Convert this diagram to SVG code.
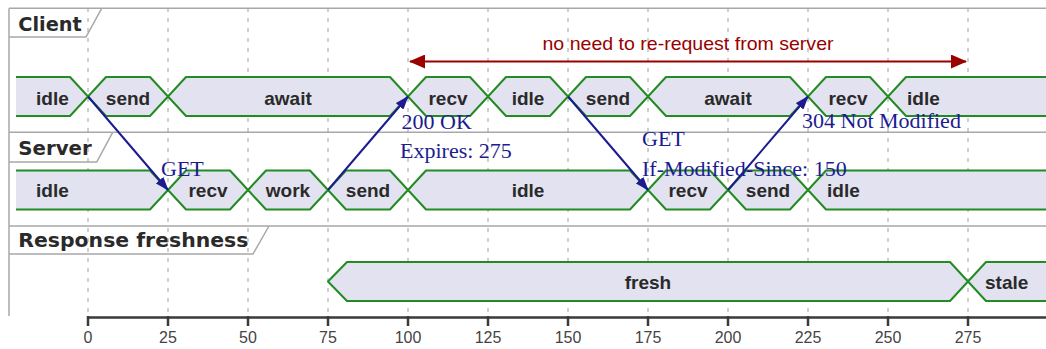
<svg xmlns="http://www.w3.org/2000/svg" width="1046" height="349" viewBox="0 0 1046 349">
<defs>
<style>
.frame{fill:none;stroke:#a8a8a8;stroke-width:1.5}
.grid{stroke:#a0a0a0;stroke-width:1;stroke-dasharray:4,6}
.band{fill:#e2e2f0;stroke:#228b22;stroke-width:2;stroke-linejoin:round}
.st{font-family:"Liberation Sans",Arial,sans-serif;font-weight:bold;font-size:19px;fill:#2a2a2a}
.lbl{font-family:"DejaVu Sans",sans-serif;font-weight:bold;font-size:19.5px;fill:#2a2a2a}
.msg{stroke:#1c1c90;stroke-width:2;fill:none}
.mt{font-family:"Liberation Serif","Times New Roman",serif;font-size:22px;fill:#1c1c90}
.ax{font-family:"Liberation Sans",Arial,sans-serif;font-size:16px;fill:#444;text-anchor:middle}
</style>
<marker id="ah" viewBox="0 0 14 10" refX="13" refY="5" markerWidth="14" markerHeight="10" markerUnits="userSpaceOnUse" orient="auto">
<path d="M0,0 L14,5 L0,10 z" fill="#1c1c90"/>
</marker>
<marker id="rh" viewBox="0 0 16 14" refX="15" refY="7" markerWidth="16" markerHeight="14" markerUnits="userSpaceOnUse" orient="auto-start-reverse">
<path d="M0,0 L16,7 L0,14 z" fill="#990000"/>
</marker>
</defs>
<rect width="1046" height="349" fill="#ffffff"/>

<g id="frame">
<path class="frame" d="M9,8.3 H1046 M9,132.3 H1046 M9,226 H1046 M9,8.3 V316"/>
<path class="frame" d="M9,37 H86 L101.7,8.3"/>
<path class="frame" d="M9,162 H96.7 L112.7,132.3"/>
<path class="frame" d="M9,254 H253 L269,226"/>
<text class="lbl" x="18.3" y="30.7" textLength="63.4" lengthAdjust="spacingAndGlyphs">Client</text>
<text class="lbl" x="18.3" y="155" textLength="73.4" lengthAdjust="spacingAndGlyphs">Server</text>
<text class="lbl" x="18.3" y="247.3" textLength="230" lengthAdjust="spacingAndGlyphs">Response freshness</text>
</g>

<g id="grid">
<path class="grid" d="M88,8 V314 M168,8 V314 M248,8 V314 M328,8 V314 M408,8 V314 M488,8 V314 M568,8 V314 M648,8 V314 M728,8 V314 M808,8 V314 M888,8 V314 M968,8 V314"/>
</g>

<g id="client">
<path class="band" d="M16,77 L70,77 L88,96.5 L70,116 L16,116"/>
<path class="band" d="M88,96.5 L106,77 L150,77 L168,96.5 L150,116 L106,116 Z"/>
<path class="band" d="M168,96.5 L186,77 L390,77 L408,96.5 L390,116 L186,116 Z"/>
<path class="band" d="M408,96.5 L426,77 L470,77 L488,96.5 L470,116 L426,116 Z"/>
<path class="band" d="M488,96.5 L506,77 L550,77 L568,96.5 L550,116 L506,116 Z"/>
<path class="band" d="M568,96.5 L586,77 L630,77 L648,96.5 L630,116 L586,116 Z"/>
<path class="band" d="M648,96.5 L666,77 L790,77 L808,96.5 L790,116 L666,116 Z"/>
<path class="band" d="M808,96.5 L826,77 L870,77 L888,96.5 L870,116 L826,116 Z"/>
<path class="band" d="M888,96.5 L906,77 L1050,77 L1050,116 L906,116 Z"/>
<text class="st" x="36" y="104.5">idle</text>
<text class="st" x="128" y="104.5" text-anchor="middle">send</text>
<text class="st" x="288" y="104.5" text-anchor="middle">await</text>
<text class="st" x="448" y="104.5" text-anchor="middle">recv</text>
<text class="st" x="528" y="104.5" text-anchor="middle">idle</text>
<text class="st" x="608" y="104.5" text-anchor="middle">send</text>
<text class="st" x="728" y="104.5" text-anchor="middle">await</text>
<text class="st" x="848" y="104.5" text-anchor="middle">recv</text>
<text class="st" x="907" y="104.5">idle</text>
</g>

<g id="server">
<path class="band" d="M16,170.5 L150,170.5 L168,190 L150,209.5 L16,209.5"/>
<path class="band" d="M168,190 L186,170.5 L230,170.5 L248,190 L230,209.5 L186,209.5 Z"/>
<path class="band" d="M248,190 L266,170.5 L310,170.5 L328,190 L310,209.5 L266,209.5 Z"/>
<path class="band" d="M328,190 L346,170.5 L390,170.5 L408,190 L390,209.5 L346,209.5 Z"/>
<path class="band" d="M408,190 L426,170.5 L630,170.5 L648,190 L630,209.5 L426,209.5 Z"/>
<path class="band" d="M648,190 L666,170.5 L710,170.5 L728,190 L710,209.5 L666,209.5 Z"/>
<path class="band" d="M728,190 L746,170.5 L790,170.5 L808,190 L790,209.5 L746,209.5 Z"/>
<path class="band" d="M808,190 L826,170.5 L1050,170.5 L1050,209.5 L826,209.5 Z"/>
<text class="st" x="36" y="197">idle</text>
<text class="st" x="208" y="197" text-anchor="middle">recv</text>
<text class="st" x="288" y="197" text-anchor="middle">work</text>
<text class="st" x="368" y="197" text-anchor="middle">send</text>
<text class="st" x="528" y="197" text-anchor="middle">idle</text>
<text class="st" x="688" y="197" text-anchor="middle">recv</text>
<text class="st" x="768" y="197" text-anchor="middle">send</text>
<text class="st" x="827" y="197">idle</text>
</g>

<g id="freshness">
<path class="band" d="M328,281.5 L347,262 L950,262 L968,281.5 L950,301 L347,301 Z"/>
<path class="band" d="M968,281.5 L986,262 L1050,262 L1050,301 L986,301 Z"/>
<text class="st" x="648" y="289" text-anchor="middle">fresh</text>
<text class="st" x="985" y="289">stale</text>
</g>

<g id="connectors">
<line class="msg" x1="88" y1="96.5" x2="168" y2="190" marker-end="url(#ah)"/>
<line class="msg" x1="328" y1="190" x2="408" y2="96.5" marker-end="url(#ah)"/>
<line class="msg" x1="568" y1="96.5" x2="648" y2="190" marker-end="url(#ah)"/>
<line class="msg" x1="728" y1="190" x2="808" y2="96.5" marker-end="url(#ah)"/>
<line x1="410" y1="61.5" x2="966" y2="61.5" stroke="#990000" stroke-width="2" marker-start="url(#rh)" marker-end="url(#rh)"/>
</g>

<g id="labels">
<text class="mt" x="161" y="176">GET</text>
<text class="mt" x="401.5" y="129">200 OK</text>
<text class="mt" x="400" y="158">Expires: 275</text>
<text class="mt" x="642" y="146">GET</text>
<text class="mt" x="642" y="176">If-Modified-Since: 150</text>
<text class="mt" x="802" y="128">304 Not Modified</text>
<text x="688" y="49.5" text-anchor="middle" font-family="Liberation Sans, Arial, sans-serif" font-size="18.5" fill="#990000" textLength="291" lengthAdjust="spacingAndGlyphs">no need to re-request from server</text>
</g>

<g id="axis">
<path d="M88,317.5 H1046" stroke="#3a3a3a" stroke-width="2.5"/>
<path d="M88,316 V326 M168,316 V326 M248,316 V326 M328,316 V326 M408,316 V326 M488,316 V326 M568,316 V326 M648,316 V326 M728,316 V326 M808,316 V326 M888,316 V326 M968,316 V326" stroke="#3a3a3a" stroke-width="2.5"/>
<text class="ax" x="88" y="343">0</text>
<text class="ax" x="168" y="343">25</text>
<text class="ax" x="248" y="343">50</text>
<text class="ax" x="328" y="343">75</text>
<text class="ax" x="408" y="343">100</text>
<text class="ax" x="488" y="343">125</text>
<text class="ax" x="568" y="343">150</text>
<text class="ax" x="648" y="343">175</text>
<text class="ax" x="728" y="343">200</text>
<text class="ax" x="808" y="343">225</text>
<text class="ax" x="888" y="343">250</text>
<text class="ax" x="968" y="343">275</text>
</g>
</svg>
